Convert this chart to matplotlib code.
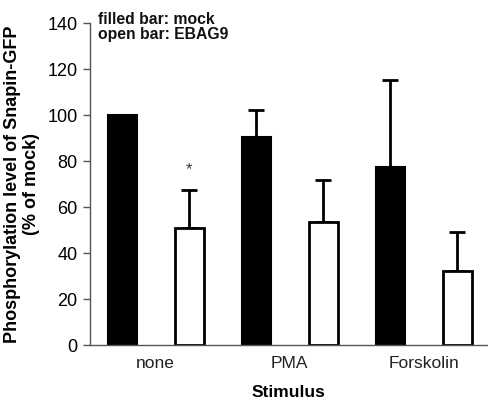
import numpy as np
import matplotlib.pyplot as plt

# ==== Data ====
stimuli = ["none", "PMA", "Forskolin"]
mock_vals = [100.0, 90.5, 77.5]
mock_err = [0.0, 11.5, 37.7]
ebag9_vals = [50.7, 53.6, 32.3]
ebag9_err = [16.7, 18.1, 16.7]

plt.rcParams['font.family'] = ['Liberation Sans', 'DejaVu Sans']

fig = plt.figure(figsize=(4.88, 3.99), dpi=100)
ax = fig.add_axes([90/488, 1 - 345/399, (487-90)/488, (345-23)/399])

x = np.arange(len(stimuli))
w = 0.215
off = 0.25
axis_col = '#555555'

ax.bar(x - off, mock_vals, w, color='black', edgecolor='black', linewidth=1.5, zorder=2)
ax.bar(x + off, ebag9_vals, w, color='white', edgecolor='black', linewidth=2, zorder=2)

# upward-only error bars
ax.errorbar(x - off, mock_vals, yerr=[np.zeros(3), mock_err], fmt='none',
            ecolor='black', elinewidth=2, capsize=6, capthick=2, zorder=1)
ax.errorbar(x + off, ebag9_vals, yerr=[np.zeros(3), ebag9_err], fmt='none',
            ecolor='black', elinewidth=2, capsize=6, capthick=2, zorder=1)

# significance marker
ax.text(x[0] + off, ebag9_vals[0] + ebag9_err[0] + 9, "*", ha='center', va='center',
        fontsize=12, color='#333333')

ax.set_xlim(-0.49, 2.47)
ax.set_ylim(0, 140)
ax.set_yticks(np.arange(0, 141, 20))
ax.set_xticks(x)
ax.set_xticklabels(stimuli)
ax.tick_params(axis='y', length=5, width=1, color=axis_col, labelsize=13, pad=4)
ax.tick_params(axis='x', length=0, labelsize=12.5, pad=8, labelcolor='#222222')

for s in ['top', 'right']:
    ax.spines[s].set_visible(False)
for s in ['left', 'bottom']:
    ax.spines[s].set_color(axis_col)
    ax.spines[s].set_linewidth(1)

ax.set_xlabel("Stimulus", fontsize=12.5, fontweight='bold', labelpad=10)
ax.set_ylabel("Phosphorylation level of Snapin-GFP\n(% of mock)", fontsize=13,
              fontweight='bold', labelpad=5, linespacing=1.2)

ax.text(0.02, 1.035, "filled bar: mock\nopen bar: EBAG9", transform=ax.transAxes,
        ha='left', va='top', fontsize=11.3, fontweight='bold', linespacing=1.05,
        color='#111111')

fig.savefig("out.png", dpi=100)
